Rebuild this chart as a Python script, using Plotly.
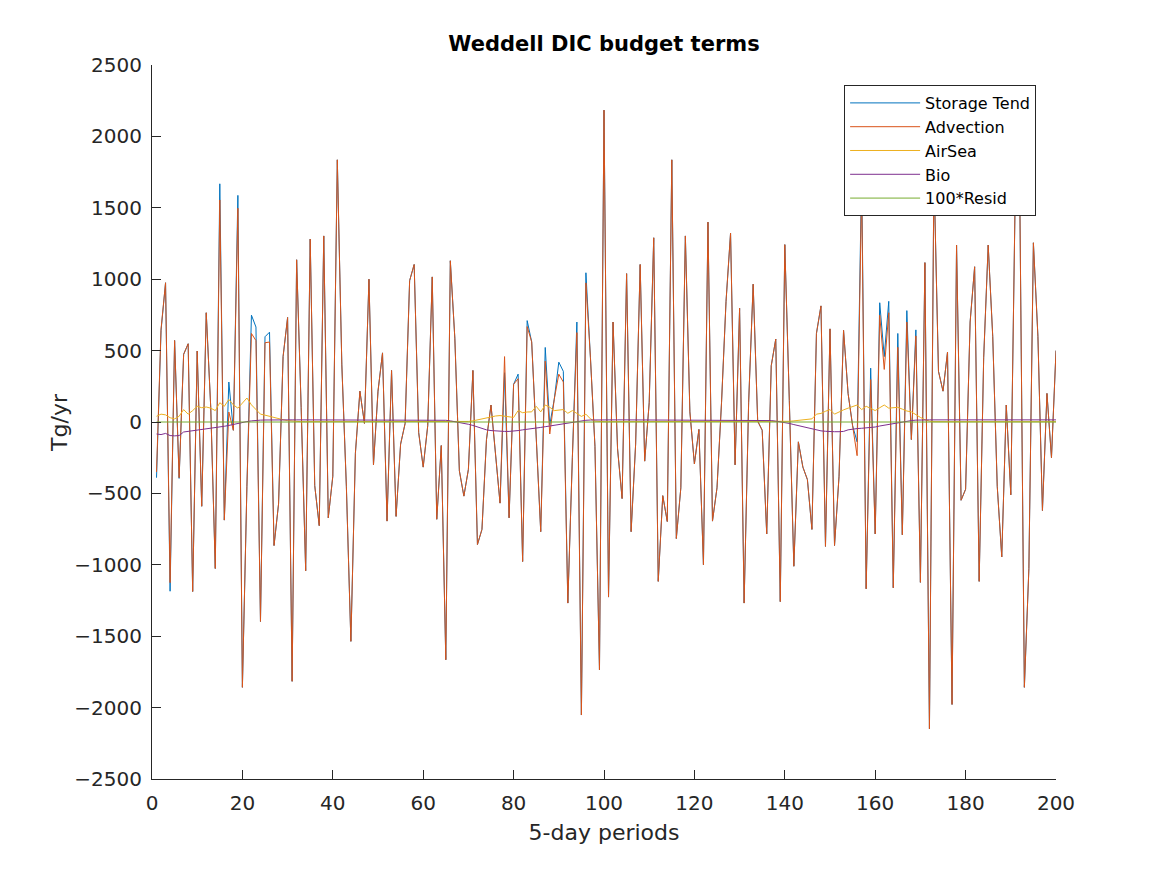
import plotly.graph_objects as go

# 5-day periods 1..200
periods = list(range(1, 201))

advection = [
    -350, 650, 975, -1125, 571, -390, 474, 548, -1187, 497,
    -590, 765, 100, -1026, 1555, -687, 70, -58, 1497, -1858,
    -450, 620, 570, -1397, 555, 560, -865, -574, 458, 732,
    -1816, 1136, 100, -1042, 1281, -445, -726, 1303, -671, -380,
    1836, 400, -450, -1536, -219, 216, -10, 1000, -300, 216,
    484, -694, 361, -661, -155, -10, 990, 1103, -74, -316,
    -26, 1016, -681, -165, -1665, 1129, 587, -342, -519, -332,
    361, -858, -752, -123, 119, -219, -568, 458, -671, 264,
    303, -977, 668, 561, -100, -768, 426, -84, 160, 335,
    280, -1268, -250, 626, -2052, 974, 450, -170, -1736, 2184,
    -1226, 700, -187, -536, 1039, -768, -155, 1103, -274, 135,
    1290, -1116, -516, -697, 1836, -816, -461, 1303, 71, -294,
    -52, -1000, 1400, -694, -461, 135, 845, 1323, -300, 797,
    -1268, 135, 965, 6, -58, -784, 394, 581, -1258, 1242,
    150, -1010, -139, -316, -403, -752, 620, 813, -871, 652,
    -865, -380, 642, 200, -26, -236, 1650, -1168, 297, -784,
    748, 368, 765, -1161, 523, -790, 700, -123, 603, -1123,
    1116, -2149, 1750, 355, 216, 490, -1978, 1239, -548, -471,
    700, 1087, -1116, 450, 1239, 600, -450, -945, 119, -510,
    1650, 1550, -1858, -1026, 1255, 600, -620, 200, -250, 500,
]

storage_tend = [
    -390, 640, 975, -1185, 571, -395, 474, 548, -1187, 497,
    -590, 765, 100, -1026, 1668, -687, 280, -58, 1587, -1858,
    -450, 748, 665, -1397, 597, 629, -865, -574, 458, 732,
    -1816, 1136, 100, -1042, 1281, -445, -726, 1303, -671, -380,
    1836, 400, -450, -1536, -219, 216, -10, 1000, -300, 216,
    484, -694, 361, -661, -155, -10, 990, 1103, -74, -316,
    -26, 1016, -681, -165, -1665, 1129, 587, -342, -519, -332,
    361, -858, -752, -123, 119, -219, -568, 345, -671, 264,
    335, -977, 710, 561, -100, -768, 522, -20, 160, 419,
    355, -1268, -250, 700, -2052, 1045, 450, -170, -1736, 2184,
    -1226, 700, -187, -536, 1039, -768, -155, 1103, -274, 135,
    1290, -1116, -516, -697, 1836, -816, -461, 1303, 71, -294,
    -52, -1000, 1400, -694, -461, 135, 845, 1323, -300, 797,
    -1268, 135, 965, 6, -58, -784, 394, 581, -1258, 1242,
    150, -1010, -139, -316, -403, -752, 620, 813, -871, 652,
    -865, -380, 642, 200, -26, -139, 1750, -1168, 377, -784,
    835, 458, 845, -1161, 620, -790, 780, -123, 645, -1123,
    1116, -2149, 1750, 355, 216, 490, -1978, 1239, -548, -471,
    700, 1087, -1116, 450, 1239, 600, -450, -945, 119, -510,
    1650, 1550, -1858, -1026, 1255, 600, -620, 200, -250, 500,
]

airsea = [
    40, 55, 50, 30, 22, 40, 87, 55, 80, 110,
    100, 105, 97, 80, 135, 110, 158, 120, 97, 135,
    168, 120, 87, 55, 48, 39, 29, 22, 16, 10,
    6, 3, 2, 2, 2, 2, 2, 2, 2, 2,
    2, 2, 2, 2, 2, 2, 2, 2, 2, 2,
    2, 2, 2, 2, 2, 2, 2, 2, 2, 2,
    2, 2, 2, 2, 2, 2, 2, 2, 2, 4,
    8, 15, 25, 32, 39, 42, 45, 40, 35, 32,
    80, 65, 70, 71, 110, 71, 119, 103, 80, 85,
    87, 61, 80, 60, 39, 55, 22, 6, 2, 2,
    2, 2, 2, 2, 2, 2, 2, 2, 2, 2,
    2, 2, 2, 2, 2, 2, 2, 2, 2, 2,
    2, 2, 2, 2, 2, 2, 2, 2, 2, 2,
    2, 2, 2, 2, 2, 2, 2, 2, 2, 2,
    5, 8, 12, 16, 20, 22, 55, 60, 75, 87,
    55, 71, 85, 97, 110, 119, 87, 110, 95, 80,
    100, 119, 97, 100, 103, 90, 77, 71, 50, 32,
    16, 6, 2, 2, 2, 2, 2, 2, 2, 2,
    2, 2, 2, 2, 2, 2, 2, 2, 2, 2,
    2, 2, 2, 2, 2, 2, 2, 2, 2, 2,
]

bio = [
    -84, -88, -80, -95, -97, -95, -70, -66, -62, -58,
    -52, -48, -45, -40, -35, -30, -24, -16, -10, -3,
    3, 8, 12, 13, 14, 15, 15, 15, 15, 15,
    15, 15, 15, 15, 15, 15, 15, 15, 15, 15,
    15, 15, 15, 15, 15, 15, 15, 15, 15, 15,
    15, 15, 15, 15, 15, 15, 15, 15, 15, 15,
    15, 15, 15, 15, 12, 8, 3, -3, -8, -16,
    -24, -35, -45, -55, -60, -63, -65, -66, -66, -65,
    -60, -55, -52, -48, -42, -38, -33, -28, -22, -16,
    -10, -5, 0, 5, 8, 12, 14, 15, 15, 15,
    15, 15, 15, 15, 15, 15, 15, 15, 15, 15,
    15, 15, 15, 15, 15, 15, 15, 15, 15, 15,
    15, 15, 15, 15, 15, 15, 15, 15, 15, 15,
    15, 15, 15, 15, 15, 12, 10, 6, 2, -3,
    -10, -18, -25, -35, -42, -50, -58, -62, -65, -68,
    -68, -68, -66, -55, -48, -46, -44, -42, -38, -35,
    -28, -22, -16, -10, -5, 0, 5, 10, 13, 15,
    15, 15, 15, 15, 15, 15, 15, 15, 15, 15,
    15, 15, 15, 15, 15, 15, 15, 15, 15, 15,
    15, 15, 15, 15, 15, 15, 15, 15, 15, 15,
]

resid_x100 = [
    0, 0, 0, 0, 0, 0, 0, 0, 0, 0,
    0, 0, 0, 0, 0, 0, 0, 0, 0, 0,
    0, 0, 0, 0, 0, 0, 0, 0, 0, 0,
    0, 0, 0, 0, 0, 0, 0, 0, 0, 0,
    0, 0, 0, 0, 0, 0, 0, 0, 0, 0,
    0, 0, 0, 0, 0, 0, 0, 0, 0, 0,
    0, 0, 0, 0, 0, 0, 0, 0, 0, 0,
    0, 0, 0, 0, 0, 0, 0, 0, 0, 0,
    0, 0, 0, 0, 0, 0, 0, 0, 0, 0,
    0, 0, 0, 0, 0, 0, 0, 0, 0, 0,
    0, 0, 0, 0, 0, 0, 0, 0, 0, 0,
    0, 0, 0, 0, 0, 0, 0, 0, 0, 0,
    0, 0, 0, 0, 0, 0, 0, 0, 0, 0,
    0, 0, 0, 0, 0, 0, 0, 0, 0, 0,
    0, 0, 0, 0, 0, 0, 0, 0, 0, 0,
    0, 0, 0, 0, 0, 0, 0, 0, 0, 0,
    0, 0, 0, 0, 0, 0, 0, 0, 0, 0,
    0, 0, 0, 0, 0, 0, 0, 0, 0, 0,
    0, 0, 0, 0, 0, 0, 0, 0, 0, 0,
    0, 0, 0, 0, 0, 0, 0, 0, 0, 0,
]

series_names = ["Storage Tend", "Advection", "AirSea", "Bio", "100*Resid"]
series_values = [storage_tend, advection, airsea, bio, resid_x100]
# matlab default line colours
colors = ["#0072BD", "#D95319", "#EDB120", "#7E2F8E", "#77AC30"]

FONT = "DejaVu Sans"
INK = "#262626"

fig = go.Figure()
for name, vals, col in zip(series_names, series_values, colors):
    fig.add_trace(go.Scatter(x=periods, y=vals, name=name, mode="lines",
                             line=dict(color=col, width=1)))

# page body has an 8px margin, so the figure is 8px smaller than the window
fig.update_layout(
    width=1159, height=867,
    paper_bgcolor="white", plot_bgcolor="white",
    margin=dict(l=144, r=111, t=57, b=96, autoexpand=False),
    font=dict(family=FONT, color=INK, size=20),
    title=dict(text="Weddell DIC budget terms", x=0.5, xref="paper", xanchor="center",
               y=1 - 36 / 867, yref="container", yanchor="middle",
               font=dict(family=FONT, size=21, color="black", weight="bold")),
    legend=dict(x=0.978, y=0.972, xanchor="right", yanchor="top",
                bgcolor="white", bordercolor=INK, borderwidth=1,
                font=dict(family=FONT, size=16, color="black"),
                itemwidth=70),
    showlegend=True,
)

fig.update_xaxes(range=[0, 200], dtick=20, showgrid=False, zeroline=False,
                 showline=True, linecolor=INK, linewidth=1,
                 ticks="inside", ticklen=9, tickcolor=INK, ticklabelstandoff=6,
                 tickfont=dict(family=FONT, size=20, color=INK),
                 title=dict(text="5-day periods", font=dict(family=FONT, size=22, color=INK), standoff=10))
fig.update_yaxes(range=[-2500, 2500], dtick=500, showgrid=False, zeroline=False,
                 showline=True, linecolor=INK, linewidth=1,
                 ticks="inside", ticklen=9, tickcolor=INK, ticklabelstandoff=5,
                 tickfont=dict(family=FONT, size=20, color=INK))

# y label placed by hand, closer to the tick labels than plotly's title allows
fig.add_annotation(text="Tg/yr", x=-0.103, y=0.5, xref="paper", yref="paper",
                   xanchor="center", yanchor="middle", textangle=-90, showarrow=False,
                   font=dict(family=FONT, size=22, color=INK))

fig.write_html("out.html")
